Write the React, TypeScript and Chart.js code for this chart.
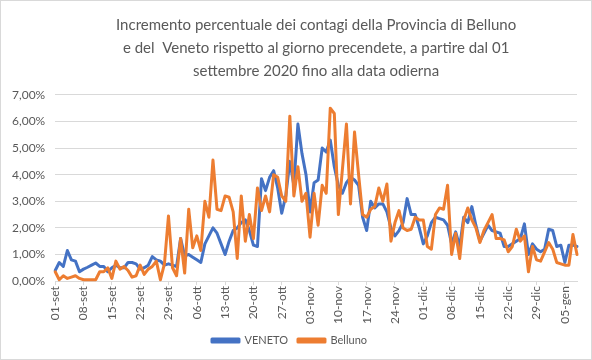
import { useEffect, useRef } from 'react';
import { Chart, registerables } from 'chart.js';

Chart.register(...registerables);

const titleLines = [
  'Incremento percentuale dei contagi della Provincia di Belluno',
  'e del  Veneto rispetto al giorno precendete, a partire dal 01',
  'settembre 2020 fino alla data odierna',
];

const tickLabels = [
  '01-set', '08-set', '15-set', '22-set', '29-set', '06-ott', '13-ott', '20-ott', '27-ott', '03-nov',
  '10-nov', '17-nov', '24-nov', '01-dic', '08-dic', '15-dic', '22-dic', '29-dic', '05-gen',
];

const veneto = [
  0.40, 0.70, 0.55, 1.15, 0.80, 0.75, 0.35, 0.45, 0.52, 0.60,
  0.68, 0.55, 0.55, 0.35, 0.50, 0.60, 0.50, 0.50, 0.70, 0.70,
  0.65, 0.45, 0.50, 0.60, 0.92, 0.80, 0.75, 0.60, 0.65, 0.60,
  0.55, 1.60, 0.95, 1.00, 0.90, 0.80, 0.70, 1.40, 1.70, 2.00,
  1.80, 1.40, 1.00, 1.50, 1.90, 2.00, 2.20, 2.30, 1.90, 1.35,
  1.30, 3.85, 3.40, 3.90, 4.15, 3.50, 2.55, 3.20, 4.50, 3.60,
  5.90, 4.80, 4.00, 2.60, 3.70, 3.80, 5.00, 4.85, 5.30, 4.30,
  3.60, 3.30, 3.70, 3.90, 3.80, 3.60, 2.40, 1.90, 3.00, 2.75,
  2.90, 2.90, 2.60, 2.00, 1.70, 1.90, 2.20, 3.10, 2.50, 2.50,
  2.00, 1.40, 1.70, 2.20, 2.40, 2.35, 2.30, 2.10, 1.40, 1.85,
  1.30, 2.40, 2.20, 2.80, 2.10, 1.50, 1.80, 2.10, 1.90, 1.85,
  1.80, 1.30, 1.30, 1.40, 1.50, 1.60, 2.15, 1.00, 1.40, 1.20,
  1.10, 1.20, 1.95, 1.90, 1.30, 1.35, 0.70, 1.35, 1.35, 1.30,
];

const belluno = [
  0.35, 0.05, 0.20, 0.10, 0.15, 0.20, 0.10, 0.05, 0.05, 0.05,
  0.05, 0.35, 0.35, 0.50, 0.10, 0.75, 0.45, 0.55, 0.40, 0.15,
  0.20, 0.60, 0.25, 0.45, 0.55, 0.75, 0.05, 0.65, 2.45, 0.50,
  0.20, 1.60, 0.30, 2.70, 1.25, 1.70, 1.15, 3.00, 2.40, 4.55,
  2.70, 2.65, 3.20, 3.15, 2.60, 0.85, 3.20, 1.50, 2.50, 1.60,
  3.50, 2.65, 3.20, 2.60, 4.00, 3.90, 3.20, 3.00, 6.20, 3.20,
  4.30, 3.00, 3.30, 1.65, 3.30, 2.10, 3.60, 3.30, 6.50, 6.30,
  2.50, 4.20, 5.90, 2.90, 5.60, 4.00, 2.50, 2.40, 2.70, 2.80,
  3.50, 3.00, 3.65, 1.50, 2.20, 2.65, 2.00, 1.90, 1.95, 2.40,
  2.30, 2.30, 1.30, 1.20, 2.50, 2.75, 2.70, 3.60, 1.00, 1.80,
  0.85, 2.30, 2.75, 2.30, 2.00, 1.45, 1.90, 2.20, 2.50, 1.60,
  1.60, 1.55, 1.10, 1.30, 1.95, 1.50, 1.70, 0.35, 1.30, 0.80,
  0.75, 1.10, 1.45, 1.20, 0.70, 0.65, 0.60, 0.60, 1.75, 1.00,
];

const GRAY = '#595959';
const GRID = '#d9d9d9';
const FONT = 'Lato';

export default function App() {
  const ref = useRef<HTMLCanvasElement>(null);

  useEffect(() => {
    document.body.style.margin = '0';
    const toPoints = (arr: number[]) => arr.map((v, i) => ({ x: i, y: v }));
    const chart = new Chart(ref.current!, {
      type: 'line',
      data: {
        datasets: [
          {
            label: 'VENETO',
            data: toPoints(veneto),
            borderColor: '#4472C4',
            backgroundColor: '#4472C4',
            borderWidth: 3,
            pointRadius: 0,
            tension: 0,
            order: 2,
            clip: false as any,
          },
          {
            label: 'Belluno',
            data: toPoints(belluno),
            borderColor: '#ED7D31',
            backgroundColor: '#ED7D31',
            borderWidth: 3,
            pointRadius: 0,
            tension: 0,
            order: 1,
            clip: false as any,
          },
        ],
      },
      options: {
        responsive: true,
        maintainAspectRatio: false,
        animation: false,
        events: [],
        elements: { line: { borderJoinStyle: 'round', borderCapStyle: 'round' } },
        layout: { padding: { left: 1, right: 14, top: 0, bottom: 3 } },
        plugins: {
          title: {
            display: true,
            text: titleLines,
            color: GRAY,
            fullSize: false,
            font: { family: FONT, size: 15, weight: 'normal', lineHeight: 1.53 },
            padding: { top: 13, bottom: 12 },
          },
          legend: {
            position: 'bottom',
            labels: {
              boxWidth: 27,
              boxHeight: 3,
              color: GRAY,
              font: { family: FONT, size: 11 },
              padding: 10,
              sort: (a: any, b: any) => a.datasetIndex - b.datasetIndex,
            },
          },
          tooltip: { enabled: false },
        },
        scales: {
          x: {
            type: 'linear',
            min: 0,
            max: veneto.length - 1,
            afterBuildTicks: (axis: any) => {
              axis.ticks = tickLabels.map((_, i) => ({ value: i * 7 }));
            },
            ticks: {
              autoSkip: false,
              maxRotation: 90,
              minRotation: 90,
              padding: 1,
              color: GRAY,
              font: { family: FONT, size: 12 },
              callback: (v: any) => tickLabels[Math.round(Number(v) / 7)] ?? '',
            },
            grid: { drawOnChartArea: false, drawTicks: true, tickLength: 4, color: GRID },
            border: { display: true, color: GRID },
          },
          y: {
            min: 0,
            max: 7,
            ticks: {
              stepSize: 1,
              padding: 10,
              color: GRAY,
              font: { family: FONT, size: 12 },
              callback: (v: any) => Number(v).toFixed(2).replace('.', ',') + '%',
            },
            grid: { color: GRID, drawTicks: false },
            border: { display: false },
          },
        },
      },
    });
    return () => chart.destroy();
  }, []);

  return (
    <div style={{ width: 592, height: 360, boxSizing: 'border-box', border: '1px solid #d9d9d9', background: '#fff' }}>
      <div style={{ position: 'relative', width: 590, height: 358 }}>
        <canvas ref={ref} />
      </div>
    </div>
  );
}
